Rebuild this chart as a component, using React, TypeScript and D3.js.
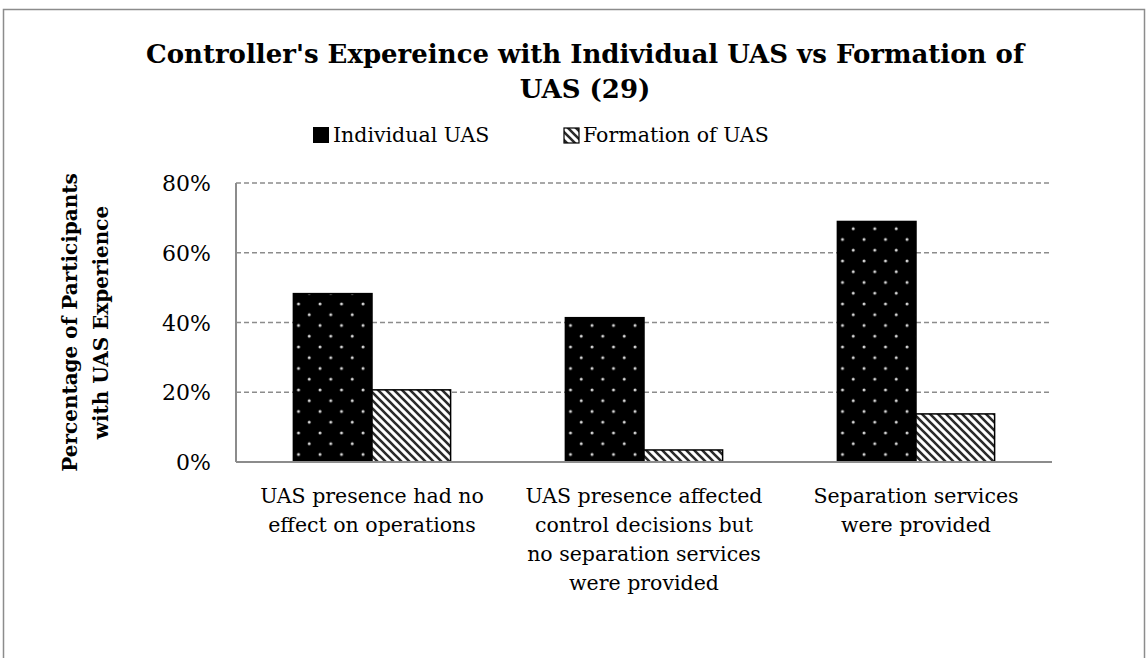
import React from "react";
import * as d3 from "d3";

const categories = [
  ["UAS presence had no", "effect on operations"],
  ["UAS presence affected", "control decisions but", "no separation services", "were provided"],
  ["Separation services", "were provided"],
];
const seriesNames = ["Individual UAS", "Formation of UAS"];
const individual = [0.4828, 0.4138, 0.6897];
const formation = [0.2069, 0.0345, 0.1379];
const yTicks = [0, 0.2, 0.4, 0.6, 0.8];
const titleLines = ["Controller's Expereince with Individual UAS vs Formation of", "UAS (29)"];
const yLabelLines = ["Percentage of Participants", "with UAS Experience"];

const FONT = "'DejaVu Serif', serif";

export default function App() {
  const W = 1148, H = 658;
  const left = 236, right = 1052, top = 183, bottom = 462;
  const catIdx = categories.map((_, i) => String(i));
  const x0 = d3.scaleBand<string>().domain(catIdx).range([left, right]).padding(0);
  const x1 = d3.scaleBand<string>().domain(seriesNames).range([0, x0.bandwidth()]).paddingInner(0).paddingOuter(0.73);
  const y = d3.scaleLinear().domain([0, 0.8]).range([bottom, top]);
  const seriesVals = [individual, formation];
  const fills = ["url(#dots)", "url(#hatch)"];
  const fmt = d3.format(".0%");

  return (
    <svg width={W} height={H} style={{ position: "absolute", left: 0, top: 0 }} fontFamily={FONT}>
      <defs>
        <pattern id="dots" patternUnits="userSpaceOnUse" width={21.5} height={21.5} x={293} y={0}>
          <rect width={21.5} height={21.5} fill="#000" />
          <circle cx={6} cy={3} r={1.5} fill="#d8d8d8" />
          <circle cx={16.75} cy={13.75} r={1.5} fill="#d8d8d8" />
        </pattern>
        <pattern id="hatch" patternUnits="userSpaceOnUse" width={8} height={8}>
          <rect width={8} height={8} fill="#fff" />
          <path d="M-2,-2 L10,10 M-2,6 L2,10 M6,-2 L10,2" stroke="#2a2a2a" strokeWidth={2.6} />
        </pattern>
      </defs>
      <rect x={0} y={0} width={W} height={H} fill="#fff" />
      <rect x={3.5} y={9.5} width={1141} height={700} fill="none" stroke="#8c8c8c" strokeWidth={1.5} />

      {titleLines.map((t, i) => (
        <text key={i} x={585} y={63 + i * 35} textAnchor="middle" fontSize={26} fontWeight="bold" fill="#000">{t}</text>
      ))}

      {/* legend */}
      <rect x={313} y={127} width={16} height={16} fill="#000" />
      <text x={333} y={142} fontSize={20.5} fill="#000">{seriesNames[0]}</text>
      <rect x={564} y={128} width={15} height={15} fill="url(#hatch)" stroke="#000" strokeWidth={1.2} />
      <text x={583} y={142} fontSize={20.5} fill="#000">{seriesNames[1]}</text>

      {/* gridlines */}
      {yTicks.filter(t => t > 0).map((t, i) => (
        <line key={i} x1={left} x2={right} y1={y(t)} y2={y(t)} stroke="#8c8c8c" strokeWidth={1.5} strokeDasharray="5,3" />
      ))}

      {/* bars */}
      {categories.map((_, ci) => (
        <g key={ci} transform={`translate(${x0(String(ci))},0)`}>
          {seriesNames.map((s, si) => (
            <rect key={s} x={x1(s)} y={y(seriesVals[si][ci])} width={x1.bandwidth()} height={bottom - y(seriesVals[si][ci])}
              fill={fills[si]} stroke="#000" strokeWidth={1.5} />
          ))}
        </g>
      ))}

      {/* axes */}
      <line x1={left} x2={left} y1={top} y2={bottom} stroke="#8c8c8c" strokeWidth={2} />
      <line x1={left} x2={right} y1={bottom} y2={bottom} stroke="#8c8c8c" strokeWidth={2} />

      {yTicks.map((t, i) => (
        <text key={i} x={211} y={y(t) + 8} textAnchor="end" fontSize={22} fill="#000">{fmt(t)}</text>
      ))}

      {categories.map((lines, ci) => (
        <text key={ci} textAnchor="middle" fontSize={20.5} fill="#000">
          {lines.map((l, li) => (
            <tspan key={li} x={(x0(String(ci)) as number) + x0.bandwidth() / 2} y={503 + li * 29}>{l}</tspan>
          ))}
        </text>
      ))}

      {yLabelLines.map((l, i) => (
        <text key={i} transform={`translate(${77 + i * 31},${(top + bottom) / 2}) rotate(-90)`} textAnchor="middle" fontSize={20} fontWeight="bold" fill="#000">{l}</text>
      ))}
    </svg>
  );
}
